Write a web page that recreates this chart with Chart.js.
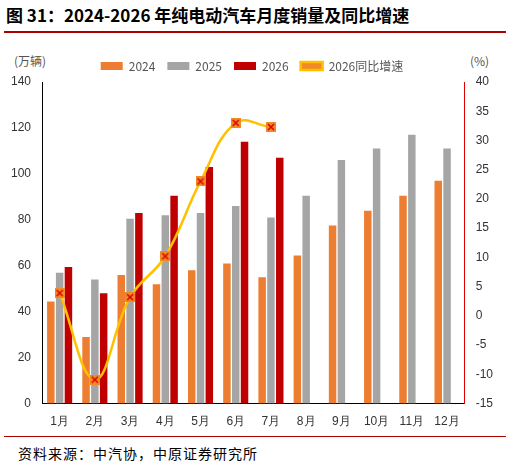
<!DOCTYPE html><html><head><meta charset="utf-8">
<script src="https://cdn.jsdelivr.net/npm/chart.js"></script>
<style>body{margin:0;width:510px;height:471px;background:#fff;font-family:"Noto Sans CJK SC";position:relative;overflow:hidden}
#t{position:absolute;left:6px;top:2px;font-size:17px;font-weight:bold;color:#000}
#l1{position:absolute;left:4px;right:4px;top:31px;border-top:2px solid #a00}
#l2{position:absolute;left:4px;right:4px;top:436px;border-top:1px solid #a00}
#f{position:absolute;left:18px;top:443px;font-size:14px;color:#000;letter-spacing:1px}
.u{position:absolute;top:52px;font-size:12px;color:#555}</style></head><body>
<div id="t">图 31：2024-2026 年纯电动汽车月度销量及同比增速</div><div id="l1"></div>
<div class="u" style="left:14px">(万辆)</div><div class="u" style="left:470px">(%)</div>
<div style="position:absolute;left:0;top:48px;width:510px;height:384px"><canvas id="c"></canvas></div>
<div id="l2"></div><div id="f">资料来源：中汽协，中原证券研究所</div>
<script>
const categories=["1月","2月","3月","4月","5月","6月","7月","8月","9月","10月","11月","12月"];
const s2024=[44.5,29,56,52,58,61,55,64.5,77.5,84,90.5,97];
const s2025=[57,54,80.5,82,83,86,81,90.5,106,111,117,111];
const s2026=[59.5,48,83,90.5,103,114,107,null,null,null,null,null];
const yoy2026=[3.9,-10.9,3.2,10.2,23,33,32.3,null,null,null,null,null];
const pc=document.createElement('canvas');pc.width=10;pc.height=10;const g=pc.getContext('2d');
g.fillStyle='#F08A24';g.fillRect(0,0,10,10);g.strokeStyle='#E00000';g.lineWidth=1.5;g.beginPath();g.moveTo(2,2);g.lineTo(8,8);g.moveTo(8,2);g.lineTo(2,8);g.stroke();
new Chart(document.getElementById('c'),{data:{labels:categories,datasets:[
{type:'line',label:'2026同比增速',data:yoy2026,yAxisID:'y1',borderColor:'#FFC000',borderWidth:2.5,tension:0.4,pointStyle:pc,backgroundColor:'#F08A24',order:0},
{type:'bar',label:'2024',data:s2024,backgroundColor:'#ED7D31',categoryPercentage:0.75,barPercentage:0.85,order:1},
{type:'bar',label:'2025',data:s2025,backgroundColor:'#A5A5A5',categoryPercentage:0.75,barPercentage:0.85,order:1},
{type:'bar',label:'2026',data:s2026,backgroundColor:'#C00000',categoryPercentage:0.75,barPercentage:0.85,order:1}]},
options:{responsive:true,maintainAspectRatio:false,animation:false,layout:{padding:{left:8,right:14,top:0,bottom:0}},
plugins:{legend:{position:'top',labels:{boxWidth:22,boxHeight:8,padding:12,font:{size:12,family:'Noto Sans CJK SC'},color:'#555',generateLabels:c=>{const L=Chart.defaults.plugins.legend.labels.generateLabels(c);L.push(L.shift());L[3].pointStyle=pc;return L}}},tooltip:{enabled:false}},
scales:{x:{grid:{display:false},border:{color:'#000'},ticks:{color:'#333',font:{size:12}}},
y:{min:0,max:140,ticks:{stepSize:20,color:'#333',font:{size:12}},grid:{display:false},border:{color:'#000'}},
y1:{position:'right',min:-15,max:40,ticks:{stepSize:5,color:'#333',font:{size:12}},grid:{display:false},border:{color:'#E00000'}}}}});
</script></body></html>
